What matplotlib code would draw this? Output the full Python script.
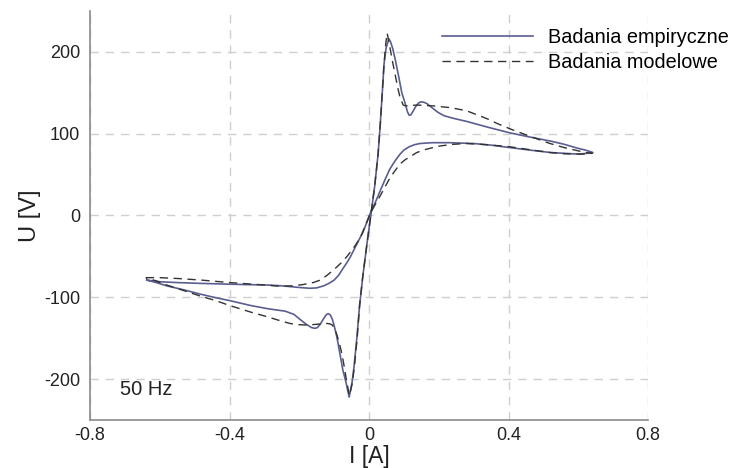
import matplotlib
matplotlib.use("Agg")
import matplotlib.pyplot as plt

# ---- empirical loop (solid): S branch, upper spike branch, steep part, lower spike branch ----
emp_I = [-0.637, -0.60, -0.55, -0.485, -0.44, -0.40, -0.35, -0.29, -0.25, -0.20,
         -0.17, -0.15, -0.13, -0.115, -0.10, -0.087, -0.075, -0.064, -0.054, -0.035,
         -0.017, 0.003, 0.017, 0.032, 0.046, 0.06, 0.075, 0.089, 0.10, 0.115,
         0.13, 0.146, 0.18, 0.23, 0.30, 0.35, 0.404, 0.46, 0.52, 0.56,
         0.60, 0.625, 0.642,
         0.62, 0.60, 0.56, 0.52, 0.46, 0.404, 0.34, 0.28, 0.24, 0.215,
         0.198, 0.18, 0.167, 0.157, 0.149, 0.142, 0.135, 0.127, 0.12, 0.115,
         0.11, 0.105, 0.10, 0.094, 0.085, 0.075, 0.068, 0.062, 0.057,
         0.049, 0.043, 0.038, 0.032, 0.026, 0.016, 0.005, -0.006, -0.018, -0.027,
         -0.035, -0.043, -0.049, -0.057,
         -0.061, -0.066, -0.075, -0.083, -0.092, -0.098, -0.105, -0.111, -0.117, -0.123,
         -0.13, -0.14, -0.148, -0.155, -0.165, -0.18, -0.198, -0.215, -0.24, -0.29,
         -0.34, -0.40, -0.445, -0.485, -0.53, -0.58, -0.61, -0.637]
emp_U = [-79, -81, -82, -83, -83.5, -84, -84.5, -85, -86, -88,
         -89, -88.5, -86, -83, -79, -73, -65, -58, -51, -35,
         -20, 2, 15, 30, 44, 57, 67, 75, 80, 84,
         86.5, 88, 89, 89, 88, 86, 83, 80, 77, 76,
         75, 76, 77,
         80, 82, 87, 91, 96, 101, 108, 115, 119, 122,
         126, 132, 136.5, 138.5, 139, 137.5, 134, 128, 123, 122.5,
         127, 135, 142, 150, 170, 191, 204, 212, 216,
         205, 185, 150, 110, 75, 35, 0, -35, -75, -110,
         -150, -185, -205, -222,
         -214, -204, -189, -170, -149, -138, -127, -121.5, -120, -121.5,
         -126, -133, -137, -138, -137, -133, -127, -121, -117, -114,
         -110, -104, -100, -96, -91, -86, -82, -79]

# ---- model loop (dashed) ----
mod_I = [-0.64, -0.60, -0.55, -0.48, -0.40, -0.35, -0.30, -0.255, -0.22, -0.19,
         -0.16, -0.14, -0.12, -0.10, -0.08, -0.063, -0.045, -0.026, -0.01, 0.005,
         0.02, 0.032, 0.046, 0.06, 0.075, 0.089, 0.103, 0.118, 0.137, 0.16,
         0.183, 0.204, 0.24, 0.28, 0.34, 0.404, 0.46, 0.519, 0.56, 0.61, 0.64,
         0.62, 0.60, 0.56, 0.519, 0.46, 0.404, 0.37, 0.34, 0.31, 0.28,
         0.25, 0.23, 0.183, 0.14, 0.118, 0.105, 0.098, 0.093, 0.088, 0.083,
         0.075, 0.066, 0.059, 0.052,
         0.048, 0.043, 0.038, 0.032, 0.026, 0.016, 0.005, -0.006, -0.018, -0.027,
         -0.034, -0.042, -0.048, -0.056,
         -0.06, -0.066, -0.073, -0.08, -0.086, -0.092, -0.098, -0.105, -0.112, -0.12,
         -0.15, -0.178, -0.20, -0.227, -0.26, -0.29, -0.34, -0.40, -0.44, -0.48,
         -0.53, -0.58, -0.61, -0.64]
mod_U = [-76, -76, -77, -79, -82, -83.5, -85, -86.5, -86, -84.5,
         -82, -79, -73, -66, -58, -50, -40, -28, -12, 4,
         15, 24, 35, 46, 55, 63, 68, 72, 77, 80.5,
         83, 85, 87, 88, 86.5, 84, 80.5, 77, 75.5, 75, 76,
         77, 79, 83, 88, 97, 106, 112, 118, 123, 128,
         130.5, 132, 134, 135, 134.5, 134, 135, 140, 146, 155,
         172, 191, 208, 223,
         210, 185, 150, 110, 75, 35, 0, -35, -75, -110,
         -150, -185, -205, -220,
         -212, -198, -180, -165, -155, -146, -139, -134, -132.5, -132,
         -133, -134, -133.5, -132, -128, -124, -118, -110, -104, -99,
         -92, -85, -80, -76]

x_ticks = [-0.8, -0.4, 0, 0.4, 0.8]
x_tick_labels = ["-0.8", "-0.4", "0", "0.4", "0.8"]
y_ticks = [-200, -100, 0, 100, 200]

plt.rcParams["font.family"] = ["Liberation Sans", "DejaVu Sans"]
plt.rcParams["axes.unicode_minus"] = False

fig = plt.figure(figsize=(7.39, 4.68), dpi=100)
ax = fig.add_axes([0.1218, 0.1026, 0.8769 - 0.1218, 0.9765 - 0.1026])

ax.plot(emp_I, emp_U, color="#5a5e90", lw=1.2, label="Badania empiryczne")
ax.plot(mod_I, mod_U, color="#333333", lw=1.0, dashes=(6, 4), label="Badania modelowe")

ax.set_xlim(-0.8, 0.8)
ax.set_ylim(-250, 250)
ax.set_xticks(x_ticks)
ax.set_xticklabels(x_tick_labels)
ax.set_yticks(y_ticks)
ax.grid(True, color="#cfcfcf", lw=1.0, dashes=(6, 5))
ax.set_axisbelow(True)

for s in ["top", "right"]:
    ax.spines[s].set_visible(False)
for s in ["left", "bottom"]:
    ax.spines[s].set_color("#8a8a8a")
    ax.spines[s].set_linewidth(1.2)
ax.tick_params(length=0, labelsize=13, colors="#222222")
ax.tick_params(axis="y", pad=7)
ax.tick_params(axis="x", pad=5)

ax.set_xlabel("I [A]", fontsize=16.5, labelpad=1, color="#222222")
ax.set_ylabel("U [V]", fontsize=17, labelpad=2, color="#222222")

ax.text(-0.715, -213, "50 Hz", fontsize=14.5, va="center", color="#222222")

fig.legend(loc="upper left", bbox_to_anchor=(434 / 739, 1 - 20 / 468),
           frameon=False, fontsize=14.3, handlelength=4.6, handletextpad=0.75,
           labelspacing=0.3, borderaxespad=0)

fig.savefig("out.png", dpi=100)
